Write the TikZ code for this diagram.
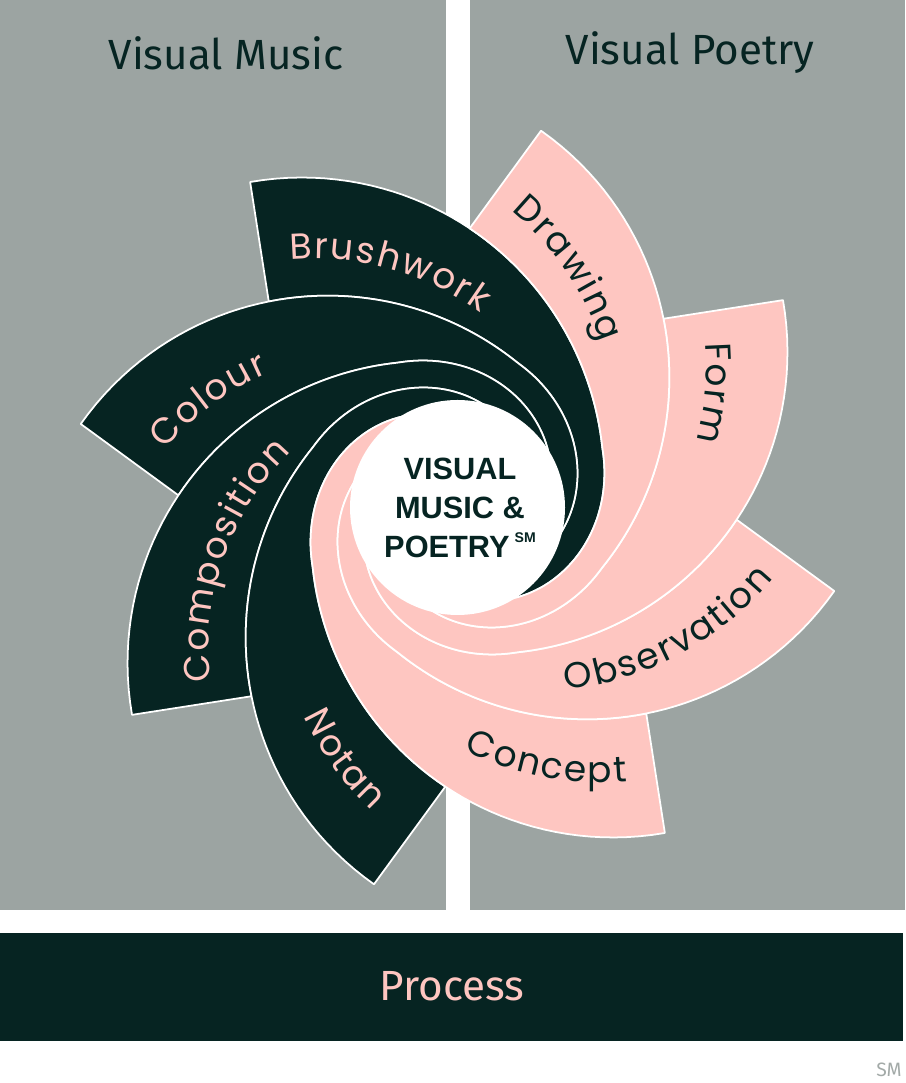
\documentclass[tikz,border=0pt]{standalone}
\usepackage{fontspec}
\setmainfont{Fira Sans}
\newfontfamily\armfont{Poppins}
\newfontfamily\hubfont{Liberation Sans}
\usepackage{tikz}
\usetikzlibrary{decorations.text}
\definecolor{panelgray}{HTML}{9CA4A2}
\definecolor{inkdark}{HTML}{062422}
\definecolor{blush}{HTML}{FEC6C1}
\definecolor{markgray}{HTML}{A3AAA8}
\newcommand\labelfont{\armfont\fontsize{20.5}{24}\selectfont}

\begin{document}
\begin{tikzpicture}[x=2cm,y=2cm,line join=round,
  declare function={rr(\s)=(\s<100)*(1.58*cos(47.3+\s)+sqrt(9.1204-2.4964*sin(47.3+\s)*sin(47.3+\s)))+(\s>=100)*(1.567-0.0062*(\s-100));},
  arm/.style={draw=white,line width=1pt,samples=150},
  armlabel/.style n args={2}{decorate,decoration={text effects along path,text={#2},text align=center,
    text effects/.cd,text along path,
    characters={font=\labelfont,text=#1},
    character widths={font=\labelfont,inner xsep=0.6pt}}},
  headtext/.style={text=inkdark,font=\fontsize{24}{28}\selectfont}]
\useasboundingbox (0,0) rectangle (9.05,10.83);
% panels
\fill[panelgray] (0,1.73) rectangle (4.46,10.83);
\fill[panelgray] (4.70,1.73) rectangle (9.05,10.83);
\fill[inkdark] (0,0.42) rectangle (9.03,1.50);
\node[headtext] (music) at (2.26,10.30) {Visual Music};
\node[headtext] (poetry) at (6.90,10.30) {Visual Poetry};
\node[text=blush,font=\fontsize{24}{28}\selectfont] (process) at (4.52,0.97) {Process};
\node[text=markgray,font=\fontsize{11}{13}\selectfont,inner sep=1pt] (mark) at (8.89,0.13) {SM};
% swirl
\begin{scope}[shift={(4.575,5.755)}]
\filldraw[arm,fill=inkdark] plot[domain=0:260] ({122.5-\x}:{rr(\x)}) -- plot[domain=0:270] ({-137.5+\x}:{rr(305-\x)}) -- cycle;
\filldraw[arm,fill=inkdark] plot[domain=0:260] ({167.5-\x}:{rr(\x)}) -- plot[domain=0:270] ({-92.5+\x}:{rr(305-\x)}) -- cycle;
\filldraw[arm,fill=inkdark] plot[domain=0:260] ({212.5-\x}:{rr(\x)}) -- plot[domain=0:270] ({-47.5+\x}:{rr(305-\x)}) -- cycle;
\filldraw[arm,fill=inkdark] plot[domain=0:260] ({257.5-\x}:{rr(\x)}) -- plot[domain=0:270] ({-2.5+\x}:{rr(305-\x)}) -- cycle;
\filldraw[arm,fill=blush] plot[domain=0:260] ({302.5-\x}:{rr(\x)}) -- plot[domain=0:270] ({42.5+\x}:{rr(305-\x)}) -- cycle;
\filldraw[arm,fill=blush] plot[domain=0:260] ({347.5-\x}:{rr(\x)}) -- plot[domain=0:270] ({87.5+\x}:{rr(305-\x)}) -- cycle;
\filldraw[arm,fill=blush] plot[domain=0:260] ({392.5-\x}:{rr(\x)}) -- plot[domain=0:270] ({132.5+\x}:{rr(305-\x)}) -- cycle;
\filldraw[arm,fill=blush] plot[domain=0:260] ({437.5-\x}:{rr(\x)}) -- plot[domain=0:270] ({177.5+\x}:{rr(305-\x)}) -- cycle;
\fill[white] (0,0) circle (1.075);
% labels
\path[armlabel={blush}{Brushwork}] (192.3:1.46) ++(114.4:2.80) arc[start angle=114.4,end angle=34.4,radius=2.80];
\path[armlabel={blush}{Colour}] (237.3:1.46) ++(166.5:2.80) arc[start angle=166.5,end angle=86.5,radius=2.80];
\path[armlabel={blush}{Composition}] (282.3:1.46) ++(200.7:2.80) arc[start angle=200.7,end angle=120.7,radius=2.80];
\path[armlabel={blush}{Notan}] (327.3:1.46) ++(176.2:3.06) arc[start angle=176.2,end angle=256.2,radius=3.06];
\path[armlabel={inkdark}{Concept}] (12.3:1.46) ++(219.3:3.06) arc[start angle=219.3,end angle=299.3,radius=3.06];
\path[armlabel={inkdark}{Observation}] (57.3:1.46) ++(258.1:3.06) arc[start angle=258.1,end angle=338.1,radius=3.06];
\path[armlabel={inkdark}{Form}] (102.3:1.46) ++(394.4:2.80) arc[start angle=394.4,end angle=314.4,radius=2.80];
\path[armlabel={inkdark}{Drawing}] (147.3:1.46) ++(74.4:2.80) arc[start angle=74.4,end angle=-5.6,radius=2.80];
\end{scope}
\node[font=\hubfont\bfseries\fontsize{17.5}{22.2}\selectfont,text=inkdark,align=center] (hub) at (4.60,5.75) {VISUAL\\MUSIC \&\\POETRY\,\raisebox{0.9ex}{\fontsize{8}{8}\selectfont SM}};
\end{tikzpicture}
\end{document}
